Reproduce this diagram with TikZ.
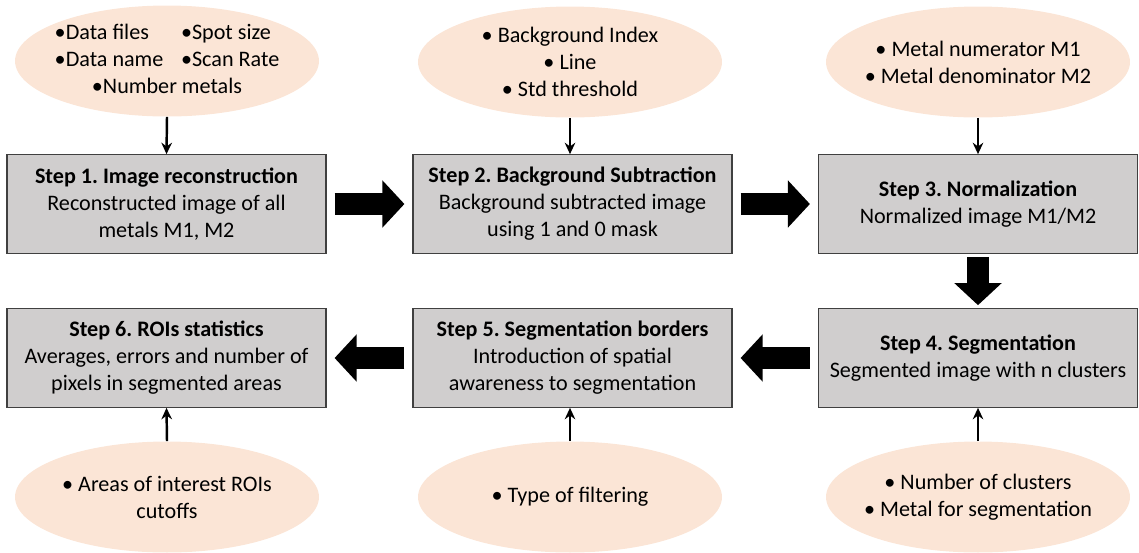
\documentclass[tikz,border=0pt]{standalone}
\usepackage{fontspec}
\setmainfont{Carlito}
\usepackage{tikz}
\usetikzlibrary{arrows.meta, shapes.geometric}
\usepackage{xcolor}
\definecolor{peach}{HTML}{FBE5D6}
\definecolor{boxgray}{HTML}{D0CECE}
\definecolor{boxline}{HTML}{404040}
\frenchspacing

\begin{document}
\begin{tikzpicture}[x=0.02cm, y=-0.02cm, >=Stealth,
  stepbox/.style={draw=boxline, fill=boxgray, line width=0.7pt, minimum width=6.38cm,
    minimum height=1.97cm, align=center, inner sep=2pt, font=\fontsize{12.6}{15.4}\selectfont},
  param/.style={ellipse, fill=peach, minimum width=6.08cm, minimum height=2.22cm,
    inner sep=-5pt, align=center, font=\fontsize{12.6}{15.4}\selectfont},
  inarrow/.style={-{Stealth[length=6.5pt, width=6pt]}, line width=1.4pt},
  bigarrow/.style={-{Triangle[length=0.44cm, width=0.92cm]}, line width=0.43cm},
  hshort/.style={shorten <=0.16cm, shorten >=0.16cm},
  vshort/.style={shorten <=0.06cm, shorten >=0.06cm}]
  \useasboundingbox (0, 0) rectangle (1139, 552);

  \node[stepbox] (s1) at (166.5, 204) {\textbf{Step 1. Image reconstruction}\\Reconstructed image of all\\metals M1, M2};
  \node[stepbox] (s2) at (572.5, 204) {\textbf{Step 2. Background Subtraction}\\Background subtracted image\\using 1 and 0 mask};
  \node[stepbox] (s3) at (978, 204) {\textbf{Step 3. Normalization}\\Normalized image M1/M2};
  \node[stepbox] (s4) at (978, 358) {\textbf{Step 4. Segmentation}\\Segmented image with n clusters};
  \node[stepbox] (s5) at (572.5, 358) {\textbf{Step 5. Segmentation borders}\\Introduction of spatial\\awareness to segmentation};
  \node[stepbox] (s6) at (166.5, 358) {\textbf{Step 6. ROIs statistics}\\Averages, errors and number of\\pixels in segmented areas};

  \node[param] (e1) at (167, 61) {\begin{tabular}{@{}l@{\hspace{10pt}}l@{}}
    •Data files & •Spot size\\
    •Data name & •Scan Rate\\
    \multicolumn{2}{c}{•Number metals}
  \end{tabular}};
  \node[param] (e2) at (570, 62) {• Background Index\\• Line\\• Std threshold};
  \node[param] (e3) at (978, 62) {• Metal numerator M1\\• Metal denominator M2};
  \node[param] (e4) at (978, 497) {• Number of clusters\\• Metal for segmentation};
  \node[param] (e5) at (570, 497) {• Type of filtering};
  \node[param] (e6) at (167, 497) {• Areas of interest ROIs\\cutoffs};

  \draw[inarrow] (e1.south) -- (s1.north);
  \draw[inarrow] (e2.south) -- (e2.south |- s2.north);
  \draw[inarrow] (e3.south) -- (s3.north);
  \draw[inarrow] (e4.north) -- (s4.south);
  \draw[inarrow] (e5.north) -- (e5.north |- s5.south);
  \draw[inarrow] (e6.north) -- (s6.south);

  \draw[bigarrow, hshort] (s1) -- (s2);
  \draw[bigarrow, hshort] (s2) -- (s3);
  \draw[bigarrow, vshort] (s3) -- (s4);
  \draw[bigarrow, hshort] (s4) -- (s5);
  \draw[bigarrow, hshort] (s5) -- (s6);
\end{tikzpicture}
\end{document}
